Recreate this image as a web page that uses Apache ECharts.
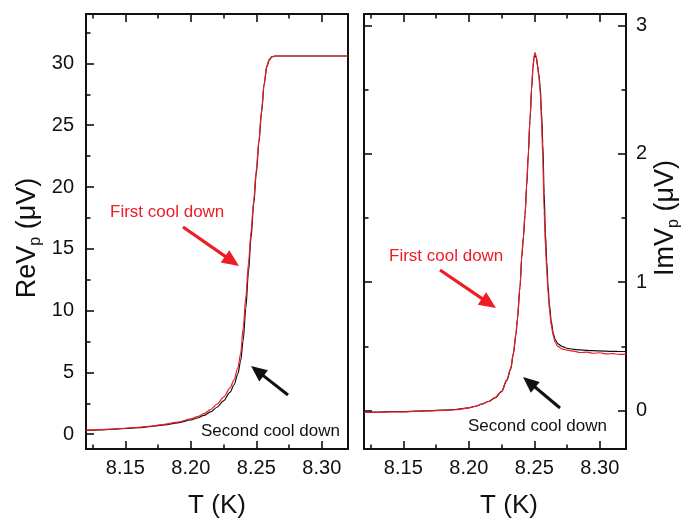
<!DOCTYPE html>
<html>
<head>
<meta charset="utf-8">
<script src="https://cdn.jsdelivr.net/npm/echarts@6/dist/echarts.min.js"></script>
<style>
  html, body { margin: 0; padding: 0; background: #fff; }
  #chart { width: 688px; height: 520px; }
</style>
</head>
<body>
<div id="chart"></div>
<script>
// Temperature sweep (K) and in-phase pickup voltage ReV_p (µV)
const reTemp = [8.120, 8.130, 8.140, 8.150, 8.160, 8.170, 8.180, 8.190, 8.200, 8.205,
  8.210, 8.215, 8.220, 8.225, 8.230, 8.233, 8.236, 8.238, 8.240, 8.242,
  8.244, 8.246, 8.248, 8.250, 8.252, 8.254, 8.256, 8.258, 8.260, 8.262,
  8.265, 8.270, 8.280, 8.290, 8.300, 8.310, 8.320];
const reFirst = [0.32, 0.37, 0.42, 0.48, 0.56, 0.66, 0.80, 0.98, 1.24, 1.42,
  1.66, 1.98, 2.42, 3.00, 3.75, 4.40, 5.40, 6.50, 8.60, 11.1,
  13.8, 16.4, 18.9, 21.4, 23.8, 26.2, 28.4, 29.8, 30.35, 30.55,
  30.6, 30.6, 30.6, 30.6, 30.6, 30.6, 30.6];
const reSecond = [0.30, 0.35, 0.40, 0.46, 0.53, 0.62, 0.75, 0.92, 1.15, 1.31,
  1.52, 1.80, 2.18, 2.70, 3.40, 4.00, 4.90, 5.90, 7.60, 10.2,
  13.1, 15.9, 18.6, 21.1, 23.6, 26.0, 28.3, 29.7, 30.3, 30.55,
  30.6, 30.6, 30.6, 30.6, 30.6, 30.6, 30.6];

// Temperature sweep (K) and out-of-phase pickup voltage ImV_p (µV)
const imTemp = [8.120, 8.130, 8.140, 8.150, 8.160, 8.170, 8.180, 8.190, 8.200, 8.205,
  8.210, 8.215, 8.220, 8.225, 8.229, 8.232, 8.234, 8.236, 8.237, 8.2391,
  8.2404, 8.2417, 8.2429, 8.2442, 8.2454, 8.2467, 8.248, 8.249, 8.2498, 8.2505,
  8.2515, 8.2525, 8.2535, 8.2545, 8.2555, 8.2565, 8.2575, 8.2585, 8.2595, 8.2605,
  8.2615, 8.263, 8.2645, 8.266, 8.268, 8.271, 8.275, 8.280, 8.285, 8.290,
  8.295, 8.300, 8.305, 8.310, 8.315, 8.320];
const imFirst = [-0.012, -0.014, -0.010, -0.011, -0.006, -0.004, 0.001, 0.006, 0.020, 0.032,
  0.050, 0.070, 0.100, 0.150, 0.240, 0.330, 0.450, 0.600, 0.710, 0.970,
  1.20, 1.36, 1.53, 1.76, 2.00, 2.27, 2.52, 2.68, 2.76, 2.79,
  2.76, 2.68, 2.60, 2.48, 2.25, 1.97, 1.55, 1.28, 1.09, 0.92,
  0.79, 0.66, 0.58, 0.53, 0.50, 0.48, 0.470, 0.462, 0.452, 0.455,
  0.446, 0.450, 0.441, 0.444, 0.437, 0.440];
const imSecond = [-0.010, -0.012, -0.009, -0.009, -0.005, -0.002, 0.003, 0.008, 0.021, 0.033,
  0.050, 0.070, 0.098, 0.146, 0.232, 0.322, 0.440, 0.590, 0.700, 0.960,
  1.19, 1.35, 1.52, 1.75, 1.99, 2.26, 2.51, 2.67, 2.75, 2.77,
  2.75, 2.69, 2.62, 2.52, 2.33, 2.08, 1.70, 1.38, 1.16, 0.97,
  0.83, 0.69, 0.60, 0.55, 0.52, 0.50, 0.485, 0.477, 0.472, 0.468,
  0.466, 0.464, 0.462, 0.461, 0.460, 0.460];

// Tick positions
const tempTicks = [8.15, 8.20, 8.25, 8.30];
const tempMinorTicks = [8.125, 8.175, 8.225, 8.275];
const reTicks = [0, 5, 10, 15, 20, 25, 30];
const reMinorTicks = [2.5, 7.5, 12.5, 17.5, 22.5, 27.5, 32.5];
const imTicks = [0, 1, 2, 3];
const imMinorTicks = [0.5, 1.5, 2.5];

const FONT = '"Liberation Sans", Arial, Helvetica, sans-serif';
const INK = '#111';
const RED = '#ee1c25';

const pair = (xs, ys) => xs.map((x, i) => [x, ys[i]]);

// One axis layer: frame line and/or inward ticks at the given values
function axisLayer(grid, position, min, max, ticks, tickLen, opts) {
  opts = opts || {};
  return {
    type: 'value', gridIndex: grid, position: position, min: min, max: max,
    splitLine: { show: false },
    axisLine: { show: !!opts.line, onZero: false, lineStyle: { color: INK, width: 2 } },
    axisTick: ticks ? { show: true, inside: true, length: tickLen, customValues: ticks,
                        lineStyle: { color: INK, width: 1.6 } } : { show: false },
    axisLabel: opts.labels ? {
      show: true, customValues: opts.labels, margin: opts.margin,
      color: INK, fontSize: 20, fontFamily: FONT,
      formatter: opts.fmt
    } : { show: false }
  };
}

const fmtT = v => Number(v).toFixed(2);
const fmtI = v => String(Math.round(v));

const xAxes = [];
const yAxes = [];
[0, 1].forEach(g => {
  xAxes.push(axisLayer(g, 'bottom', 8.12, 8.32, tempTicks, 8, { line: true, labels: tempTicks, margin: 9, fmt: fmtT }));
  xAxes.push(axisLayer(g, 'bottom', 8.12, 8.32, tempMinorTicks, 4.5));
  xAxes.push(axisLayer(g, 'top', 8.12, 8.32, tempTicks, 8, { line: true }));
  xAxes.push(axisLayer(g, 'top', 8.12, 8.32, tempMinorTicks, 4.5));
});
// left panel: ReV_p
yAxes.push(axisLayer(0, 'left', -1.2, 34, reTicks, 8, { line: true, labels: reTicks, margin: 12, fmt: fmtI }));
yAxes.push(axisLayer(0, 'left', -1.2, 34, reMinorTicks, 4.5));
yAxes.push(axisLayer(0, 'right', -1.2, 34, null, 0, { line: true }));
// right panel: ImV_p
yAxes.push(axisLayer(1, 'right', -0.3, 3.09, imTicks, 8, { line: true, labels: imTicks, margin: 10, fmt: fmtI }));
yAxes.push(axisLayer(1, 'right', -0.3, 3.09, imMinorTicks, 4.5));
yAxes.push(axisLayer(1, 'left', -0.3, 3.09, imTicks, 8, { line: true }));
yAxes.push(axisLayer(1, 'left', -0.3, 3.09, imMinorTicks, 4.5));

function curve(name, data, color, xi, yi) {
  return {
    name: name, type: 'line', xAxisIndex: xi, yAxisIndex: yi, data: data,
    showSymbol: false, smooth: 0.3, smoothMonotone: 'x',
    lineStyle: { color: color, width: 1.2 }, animation: false, z: color === RED ? 3 : 2
  };
}

// Arrow: shaft plus a filled triangular head ending at the tip
function arrow(x0, y0, x1, y1, color, headLen, headHalf, width) {
  const dx = x1 - x0, dy = y1 - y0, L = Math.hypot(dx, dy);
  const ux = dx / L, uy = dy / L, nx = -uy, ny = ux;
  const bx = x1 - ux * headLen, by = y1 - uy * headLen;
  return {
    type: 'group', children: [
      { type: 'line', shape: { x1: x0, y1: y0, x2: bx + ux * 2, y2: by + uy * 2 },
        style: { stroke: color, lineWidth: width } },
      { type: 'polygon', shape: { points: [[x1, y1], [bx + nx * headHalf, by + ny * headHalf], [bx - nx * headHalf, by - ny * headHalf]] },
        style: { fill: color } }
    ]
  };
}

function label(text, x, y, color, size, align) {
  return { type: 'text', x: x, y: y, style: { text: text, fill: color, font: size + 'px ' + FONT,
    textAlign: align || 'left', textVerticalAlign: 'middle' } };
}

// Rotated axis title with a subscript
function vTitle(main, sub, unit, x, y) {
  return {
    type: 'text', x: x, y: y, rotation: Math.PI / 2,
    style: {
      text: '{a|' + main + '}{b|' + sub + '}{a| ' + unit + '}',
      textAlign: 'center', textVerticalAlign: 'middle', fill: INK,
      rich: {
        a: { fontSize: 27, fontFamily: FONT, lineHeight: 32, fill: INK },
        b: { fontSize: 16, fontFamily: FONT, lineHeight: 4, verticalAlign: 'bottom', fill: INK }
      }
    }
  };
}

const chart = echarts.init(document.getElementById('chart'), null, { renderer: 'canvas' });
chart.setOption({
  backgroundColor: '#fff',
  animation: false,
  grid: [
    { left: 86, top: 14, width: 262, height: 435 },
    { left: 364, top: 14, width: 262, height: 435 }
  ],
  xAxis: xAxes,
  yAxis: yAxes,
  series: [
    curve('Second cool down', pair(reTemp, reSecond), INK, 0, 0),
    curve('First cool down', pair(reTemp, reFirst), RED, 0, 0),
    curve('Second cool down', pair(imTemp, imSecond), INK, 4, 3),
    curve('First cool down', pair(imTemp, imFirst), RED, 4, 3)
  ],
  graphic: [
    label('T (K)', 217, 506, INK, 26, 'center'),
    label('T (K)', 509, 506, INK, 26, 'center'),
    vTitle('ReV', 'p', '(μV)', 28, 238),
    vTitle('ImV', 'p', '(μV)', 666, 218),
    label('First cool down', 110, 212, RED, 17),
    label('Second cool down', 201, 431, INK, 17),
    label('First cool down', 389, 256, RED, 17),
    label('Second cool down', 468, 426, INK, 17),
    arrow(183, 227, 239, 266, RED, 17, 7.5, 3.2),
    arrow(288, 395, 251, 366, INK, 16, 7, 3),
    arrow(440, 270, 496, 308, RED, 17, 7.5, 3.2),
    arrow(560, 408, 523, 377, INK, 16, 7, 3)
  ]
});
</script>
</body>
</html>
